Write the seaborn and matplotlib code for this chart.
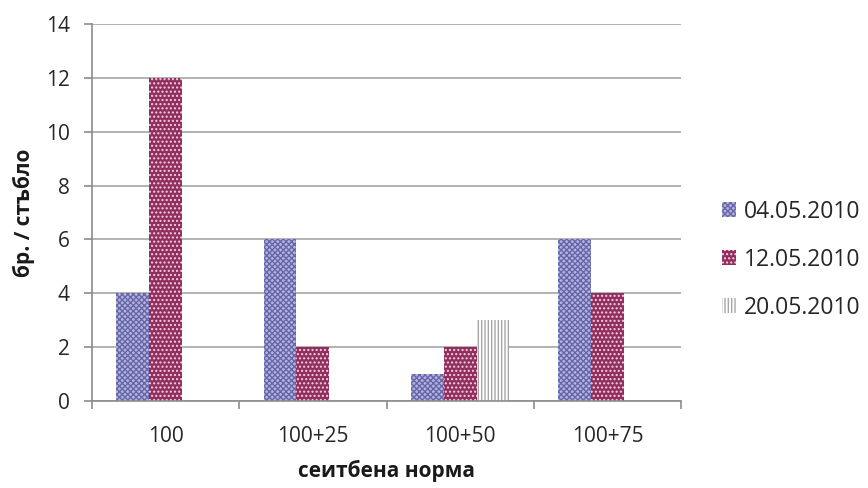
import matplotlib
matplotlib.use("Agg")
import matplotlib.pyplot as plt
import seaborn as sns
import pandas as pd

categories = ["100", "100+25", "100+50", "100+75"]
dates = ["04.05.2010", "12.05.2010", "20.05.2010"]
values_0405 = [4, 6, 1, 6]
values_1205 = [12, 2, 2, 4]
values_2005 = [0, 0, 3, 0]
y_ticks = [0, 2, 4, 6, 8, 10, 12, 14]

rows = []
for date, vals in zip(dates, [values_0405, values_1205, values_2005]):
    for cat, v in zip(categories, vals):
        rows.append({"норма": cat, "дата": date, "бр": v})
df = pd.DataFrame(rows)

sns.set_theme(style="white")
plt.rcParams["font.family"] = ["Open Sans", "DejaVu Sans"]
plt.rcParams["hatch.linewidth"] = 1.0

fig = plt.figure(figsize=(8.68, 4.88), dpi=100)
ax = fig.add_axes([92 / 868, 87 / 488, (681 - 92) / 868, (401 - 24) / 488])

sns.barplot(data=df, x="норма", y="бр", hue="дата", order=categories,
            hue_order=dates, width=0.67, errorbar=None, ax=ax, legend=False)

# fill styles per series: face colour, hatch colour, hatch pattern
styles = [
    ("#b4b4dc", "#6666aa", "xxxxxx"),
    ("#912e5e", "#f0d0e0", "...."),
    ("#ffffff", "#a6a6a6", "|||||"),
]
for cont, (face, hcol, hatch) in zip(ax.containers, styles):
    for bar in cont.patches:
        bar.set_facecolor(face)
        bar.set_edgecolor(hcol)
        bar.set_hatch(hatch)
        bar.set_linewidth(0)

ax.set_ylim(0, 14)
ax.set_yticks(y_ticks)
ax.set_xlim(-0.5, 3.5)
ax.yaxis.grid(True, color="#a6a6a6", linewidth=1.2)
ax.set_axisbelow(True)

for side in ["top", "right"]:
    ax.spines[side].set_visible(False)
for side in ["left", "bottom"]:
    ax.spines[side].set_color("#8c8c8c")
    ax.spines[side].set_linewidth(1.2)

ax.tick_params(axis="y", left=True, length=6, width=1.2, color="#8c8c8c",
               labelsize=15, labelcolor="#262626", pad=10)
ax.tick_params(axis="x", which="major", bottom=False, labelsize=15,
               labelcolor="#262626", pad=12)
ax.set_xticks([-0.5, 0.5, 1.5, 2.5, 3.5], minor=True)
ax.tick_params(axis="x", which="minor", bottom=True, length=6, width=1.2,
               color="#8c8c8c")

ax.set_xlabel("сеитбена норма", fontsize=15, fontweight="bold",
              color="#1a1a1a", labelpad=9)
ax.set_ylabel("бр. / стъбло", fontsize=15, fontweight="bold",
              color="#1a1a1a", labelpad=8)

leg = ax.legend(handles=list(ax.containers), labels=dates, loc="center left",
                bbox_to_anchor=(1.035, 0.375), frameon=False, fontsize=16.5,
                handlelength=0.6, handleheight=0.6, handletextpad=0.35,
                labelspacing=1.05)
for t in leg.get_texts():
    t.set_color("#262626")

fig.savefig("out.png", dpi=100)
